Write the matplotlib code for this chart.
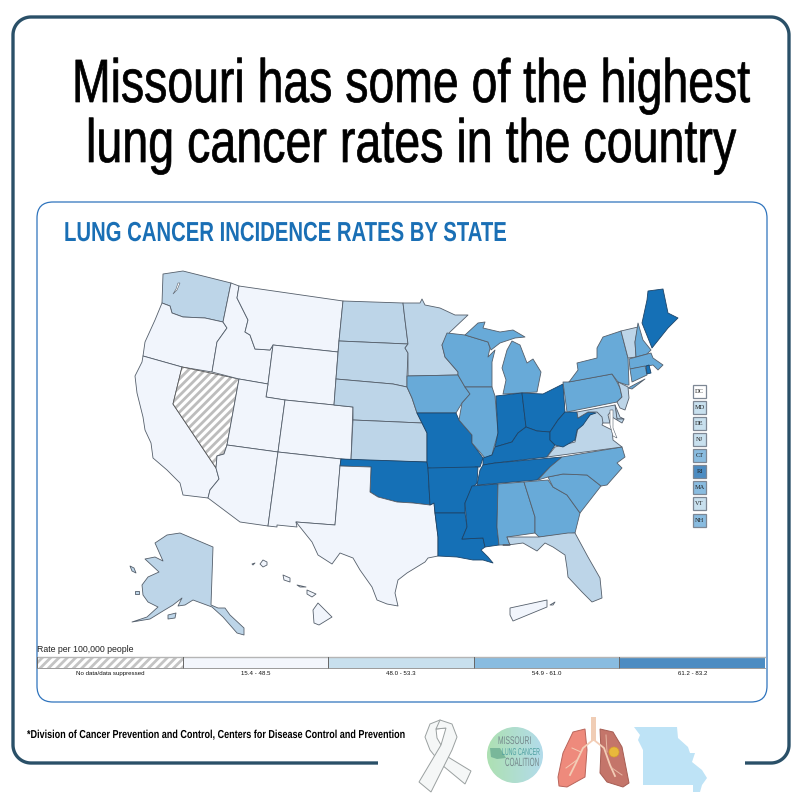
import numpy as np
import matplotlib
matplotlib.use("Agg")
import matplotlib.pyplot as plt
from matplotlib.patches import Polygon, FancyBboxPatch, Circle, Rectangle
from matplotlib.patheffects import AbstractPathEffect
from matplotlib.text import Text
from matplotlib.transforms import Affine2D, Bbox

# rate classes: 0 = no data, 1..4 = legend order
state_names = ["WA","OR","CA","NV","ID","MT","WY","UT","CO","AZ","NM","ND","SD","NE","KS","OK","TX",
               "MN","IA","MO","AR","LA","WI","IL","MS","MI","MI2","IN","OH","KY","TN","AL","GA","FL",
               "SC","NC","VA","WV","PA","NY","LI","NJ","DE","MD","VT","NH","ME","MA","CT","RI",
               "AK","AK2","AK3","AK4","HI","HI2","HI3","HI4","HI5","HI6","PR","PR2"]
rate_class = [2,1,1,0,1,1,1,1,1,1,1,2,2,2,2,4,1,
              2,3,4,4,4,3,3,4,3,3,4,4,4,4,3,3,2,
              3,3,2,4,3,3,3,2,2,2,2,3,4,3,3,4,
              2,2,2,2,1,1,1,1,1,1,1,1]

inset_codes = ["DC","MD","DE","NJ","CT","RI","MA","VT","NH"]
inset_class = [1,2,2,2,3,4,3,2,3]

legend_labels = ["No data/data suppressed","15.4 - 48.5","48.0 - 53.3","54.9 - 61.0","61.2 - 83.2"]
map_colors = {1:"#f1f5fc", 2:"#bdd5e8", 3:"#68aad8", 4:"#1570b6"}
bar_colors = {1:"#f3f6fc", 2:"#c8e0ee", 3:"#89bce0", 4:"#4c8cc2"}

# state outlines (pixels)
outlines = {
"WA":[(163,274),(183,271),(231,283),(223,322),(205,318),(183,317),(172,313),(170,306),(162,303)],
"OR":[(162,303),(170,306),(172,313),(183,317),(205,318),(223,322),(227,328),(217,342),(212,372),(182,367),(143,356),(145,342),(155,320)],
"CA":[(143,356),(182,367),(173,404),(216,468),(219,479),(210,490),(208,498),(183,495),(180,483),(167,470),(153,458),(151,443),(145,430),(143,417),(137,393),(135,376),(142,362)],
"NV":[(182,367),(239,379),(227,445),(224,454),(217,456),(216,468),(173,404)],
"ID":[(231,283),(239,286),(237,298),(248,320),(245,332),(250,335),(255,349),(270,350),(273,345),(268,384),(239,379),(212,372),(217,342),(227,328),(223,322)],
"MT":[(239,286),(343,301),(339,341),(338,352),(273,345),(270,350),(255,349),(250,335),(245,332),(248,320),(237,298)],
"WY":[(273,345),(338,352),(334,405),(285,400),(266,397),(268,384)],
"UT":[(239,379),(268,384),(266,397),(285,400),(278,452),(227,445)],
"CO":[(285,400),(334,405),(353,407),(351,460),(278,452)],
"AZ":[(227,445),(278,452),(268,526),(240,522),(208,498),(210,490),(219,479),(216,468),(217,456),(224,454)],
"NM":[(278,452),(341,459),(340,467),(335,525),(296,522),(297,527),(277,525),(277,527),(268,526)],
"ND":[(343,301),(403,303),(405,320),(408,344),(339,341)],
"SD":[(339,341),(408,344),(405,348),(408,353),(407,376),(407,387),(393,384),(336,379)],
"NE":[(336,379),(393,384),(407,387),(412,398),(417,413),(422,423),(353,420),(353,407),(334,405)],
"KS":[(353,420),(422,423),(427,433),(427,462),(351,460)],
"OK":[(341,459),(427,462),(428,468),(430,505),(413,503),(397,502),(378,497),(370,492),(371,467),(340,466)],
"TX":[(340,466),(371,467),(370,492),(378,497),(397,502),(413,503),(430,505),(434,503),(435,513),(438,537),(438,556),(428,558),(425,562),(407,573),(398,580),(395,593),(398,606),(387,604),(377,600),(372,587),(360,570),(353,558),(340,553),(332,564),(318,555),(312,542),(296,522),(335,525)],
"MN":[(403,303),(420,303),(422,299),(425,305),(440,308),(455,315),(468,315),(450,332),(442,345),(445,357),(458,372),(458,375),(408,376),(408,353),(405,348),(408,344),(405,320)],
"IA":[(407,376),(458,375),(465,387),(470,394),(462,403),(456,413),(417,413),(412,398),(407,387)],
"MO":[(417,413),(456,413),(459,420),(472,435),(472,443),(483,458),(480,467),(475,467),(474,473),(428,468),(427,462),(427,433),(422,423)],
"AR":[(428,468),(474,467),(478,467),(477,483),(472,488),(465,503),(465,513),(435,513),(434,503),(430,505)],
"LA":[(435,513),(465,513),(467,527),(462,539),(483,538),(485,547),(481,550),(488,557),(493,563),(483,560),(473,560),(457,557),(438,556),(438,537)],
"WI":[(447,333),(465,335),(488,342),(490,348),(488,357),(495,350),(492,362),(492,387),(465,387),(458,375),(458,372),(445,357),(442,345)],
"IL":[(465,387),(492,387),(495,396),(498,433),(494,447),(492,455),(485,458),(472,443),(472,435),(459,420),(462,403),(470,394)],
"MS":[(472,486),(498,484),(497,527),(499,545),(485,547),(483,538),(462,539),(467,527),(465,503)],
"MI":[(503,394),(506,380),(502,368),(507,350),(512,341),(520,345),(527,363),(533,359),(541,372),(537,392)],
"MI2":[(465,335),(478,323),(485,322),(483,328),(500,332),(513,330),(525,337),(515,338),(500,343),(491,350),(488,342)],
"IN":[(496,396),(522,393),(526,427),(518,433),(512,442),(495,447),(498,433)],
"OH":[(522,393),(543,394),(563,384),(565,412),(558,420),(550,432),(537,431),(526,427)],
"KY":[(495,447),(512,442),(518,433),(526,427),(537,431),(550,432),(550,440),(555,445),(547,457),(495,463),(483,465),(483,458),(492,455)],
"TN":[(483,465),(495,463),(562,457),(550,467),(537,480),(477,485),(480,470)],
"AL":[(498,484),(524,482),(535,517),(535,533),(507,537),(510,545),(503,545),(499,545),(497,527)],
"GA":[(524,482),(548,480),(553,487),(567,495),(580,513),(575,533),(539,537),(535,533),(535,517)],
"FL":[(507,537),(539,537),(568,533),(575,533),(588,557),(600,578),(602,598),(592,602),(582,592),(568,577),(567,568),(565,555),(553,547),(545,543),(537,551),(523,543),(508,545),(503,545),(510,545)],
"SC":[(548,477),(563,474),(587,475),(601,486),(580,513),(567,495),(553,487)],
"NC":[(538,480),(550,467),(562,457),(622,447),(625,457),(617,463),(622,468),(607,485),(601,486),(587,475),(563,474),(548,477)],
"VA":[(547,457),(555,447),(575,442),(578,428),(590,415),(596,411),(605,418),(602,425),(612,430),(613,440),(622,447)],
"WV":[(565,412),(577,412),(578,418),(588,412),(596,413),(590,415),(583,425),(577,430),(575,440),(563,447),(555,445),(550,440),(550,432),(558,420)],
"PA":[(563,382),(568,382),(612,374),(617,382),(620,388),(622,397),(617,402),(567,412)],
"NY":[(569,382),(578,370),(577,363),(597,358),(597,348),(603,337),(621,331),(628,358),(629,385),(627,385),(618,382),(612,374)],
"LI":[(628,388),(645,379),(632,389)],
"NJ":[(618,382),(628,387),(629,398),(625,410),(620,408),(617,402),(622,397),(620,388)],
"DE":[(615,405),(620,417),(624,419),(617,419)],
"MD":[(577,412),(615,405),(617,419),(624,419),(622,423),(612,417),(612,410),(608,415),(610,423),(603,423),(602,417),(597,412),(588,412),(578,418)],
"VT":[(621,331),(638,327),(635,342),(636,357),(628,358)],
"NH":[(638,323),(643,340),(651,350),(647,354),(636,357),(635,342)],
"ME":[(648,291),(663,289),(668,313),(678,318),(668,328),(652,348),(642,323),(647,300)],
"MA":[(629,359),(651,353),(653,358),(663,365),(658,370),(653,365),(630,369)],
"CT":[(630,369),(645,366),(647,375),(632,382)],
"RI":[(646,366),(649,365),(651,373),(647,374)],
"AK":[(180,533),(213,547),(211,605),(218,608),(225,608),(230,615),(244,628),(244,635),(237,633),(223,617),(212,607),(193,600),(185,605),(178,606),(182,598),(173,605),(163,611),(150,619),(132,622),(147,617),(158,607),(148,602),(143,595),(142,585),(148,577),(159,572),(145,559),(155,557),(163,561),(155,543),(167,535)],
"AK2":[(168,615),(176,613),(175,618),(168,619)],
"AK3":[(135,591),(139,591),(139,594),(135,594)],
"AK4":[(130,566),(134,568),(136,573),(132,571)],
"HI":[(318,603),(332,617),(319,625),(314,623),(313,610)],
"HI2":[(307,590),(316,594),(312,597),(307,594)],
"HI3":[(283,575),(290,578),(290,582),(284,580)],
"HI4":[(297,585),(306,587),(300,587)],
"HI5":[(263,560),(267,562),(267,565),(263,567),(260,564)],
"HI6":[(252,564),(255,563),(253,565)],
"PR":[(510,608),(547,600),(547,607),(513,621),(510,615)],
"PR2":[(550,605),(555,602),(553,605)],
}

# right hand legend boxes, top edge of each box
inset_top = [385,401,417,433,449,465,481,497,514]

base_font = "Liberation Sans"


class Squeeze(AbstractPathEffect):
    # reshapes drawn glyphs around (x0, y0), no condensed family is installed
    def __init__(self, fx, fy, x0, y0, stroke=0.0):
        super().__init__()
        self.fx, self.fy, self.x0, self.y0, self.stroke = fx, fy, x0, y0, stroke

    def draw_path(self, renderer, gc, tpath, affine, rgbFace=None):
        tr = affine + Affine2D().translate(-self.x0, -self.y0).scale(self.fx, self.fy).translate(self.x0, self.y0)
        gc0 = renderer.new_gc()
        gc0.copy_properties(gc)
        gc0.set_linewidth(self.stroke)
        renderer.draw_path(gc0, tpath, tr, rgbFace)
        gc0.restore()


class NarrowText(Text):
    # left aligned text fitted to a given width in pixels, tall stretches it upward from the baseline
    def __init__(self, x, y, s, width, tall=1.0, stroke=0.0, **kw):
        super().__init__(x, y, s, **kw)
        self.fit_width = width
        self.tall = tall
        self.stroke = stroke

    def draw(self, renderer):
        natural = Text.get_window_extent(self, renderer)
        px, py = self.get_transform().transform((self.get_position()))
        self.set_path_effects([Squeeze(self.fit_width / natural.width, self.tall, px, py, self.stroke)])
        super().draw(renderer)
        self.set_path_effects([])


plt.rcParams["hatch.linewidth"] = 2.0
fig = plt.figure(figsize=(8,8), dpi=100)
ax = fig.add_axes([0,0,1,1])
ax.set_xlim(0,800)
ax.set_ylim(800,0)
ax.axis("off")


def narrow(x, y, s, width, size, color="black", weight="normal", tall=1.0, stroke=0.0, zorder=5):
    txt = NarrowText(x, y, s, width, tall=tall, stroke=stroke, family=base_font, fontsize=size, color=color,
                     weight=weight, va="baseline", zorder=zorder)
    ax.add_artist(txt)
    txt.set_transform(ax.transData)


# outer frame, open along the bottom
frame_color = "#2a5068"
r = 18
left, right, top, bottom = 13, 789, 17, 763
t = np.linspace(0,np.pi/2,20)
xs = [378, left+r] + list(left+r-r*np.sin(t)) + list(left+r-r*np.cos(t)) + [right-r] + list(right-r+r*np.sin(t)) + list(right-r+r*np.cos(t)) + [745]
ys = [bottom, bottom] + list(bottom-r+r*np.cos(t)) + list(top+r-r*np.sin(t)) + [top] + list(top+r-r*np.cos(t)) + list(bottom-r+r*np.sin(t)) + [bottom]
ax.plot(xs, ys, color=frame_color, lw=2.4, solid_capstyle="butt")

# blue panel
ax.add_patch(FancyBboxPatch((37+16,202+16),730-32,500-32,boxstyle="round,pad=16,rounding_size=16",
                            fc="white",ec="#2f74bd",lw=0.9))

narrow(72,102,"Missouri has some of the highest",678,33,tall=44/33,stroke=0.5)
narrow(86,162,"lung cancer rates in the country",651,33,tall=44/33,stroke=0.5)
narrow(64,241,"LUNG CANCER INCIDENCE RATES BY STATE",443,19.8,color="#1a6fb5",weight="bold")
narrow(27,738,"*Division of Cancer Prevention and Control, Centers for Disease Control and Prevention",378,8.3,weight="bold")

# states
for name, cls in zip(state_names, rate_class):
    if cls == 0:
        ax.add_patch(Polygon(outlines[name],closed=True,fc="white",ec="#bdbdbd",hatch="////",lw=0))
        ax.add_patch(Polygon(outlines[name],closed=True,fc="none",ec="#555555",lw=0.6))
    else:
        edge = "#1d4468" if cls == 4 else "#555f6b"
        ax.add_patch(Polygon(outlines[name],closed=True,fc=map_colors[cls],ec=edge,lw=0.6,joinstyle="round"))

# Puget Sound and Chesapeake Bay
ax.add_patch(Polygon([(180,283),(177,290),(173,294),(176,289),(178,283)],closed=True,fc="white",ec="#555f6b",lw=0.4))
ax.add_patch(Polygon([(610,410),(613,410),(613,428),(617,438),(613,436),(610,425)],closed=True,fc="white",ec="#555f6b",lw=0.4))

# small boxes for the little states
for code, cls, y in zip(inset_codes, inset_class, inset_top):
    fc = "white" if cls == 1 else bar_colors[cls]
    ax.add_patch(Rectangle((693,y),13,13,fc=fc,ec="#7d8794",lw=0.9))
    ax.text(699.5,y+6.5,code,family="Liberation Serif",fontsize=4.6,ha="center",va="center",color="#222222")

# bottom legend
ax.text(37,649,"Rate per 100,000 people",family="Liberation Sans",fontsize=6.3,color="#222222",va="center")
bar_x = np.linspace(37,765,6)
ax.plot([37,765],[657,657],color="#b5b5b5",lw=1.0)
for i, lab in enumerate(legend_labels):
    if i == 0:
        ax.add_patch(Rectangle((bar_x[0],657),bar_x[1]-bar_x[0],11,fc="white",ec="#c4c4c4",hatch="////",lw=0))
    else:
        ax.add_patch(Rectangle((bar_x[i],657),bar_x[i+1]-bar_x[i],11,fc=bar_colors[i],ec="none"))
    ax.plot([bar_x[i],bar_x[i]],[657,668],color="#666666",lw=0.7)
    ax.text((bar_x[i]+bar_x[i+1])/2,673.5,lab,family="Liberation Sans",fontsize=4.4,ha="center",va="center",color="#111111")
ax.plot([37,765],[668,668],color="#8a8a8a",lw=0.6)

# ribbon
ribbon_back = [(440,720),(430,724),(425,737),(430,750),(442,765),(465,784),(471,771),(448,757),(437,738),(436,729),(446,728)]
ribbon_front = [(440,720),(452,724),(457,737),(452,750),(431,792),(419,782),(441,745),(446,728),(436,729)]
ax.add_patch(Polygon(ribbon_back,closed=True,fc="#f5f7f7",ec="#9aa0a0",lw=0.7))
ax.add_patch(Polygon(ribbon_front,closed=True,fc="#f5f7f7",ec="#9aa0a0",lw=0.7))

# coalition logo
grad = np.linspace(0,1,60)[None,:]
logo = ax.imshow(np.dstack([0.68+0.02*grad,0.88-0.02*grad,0.70+0.22*grad]),extent=(487,543,783,727),aspect="auto",zorder=2)
logo.set_clip_path(Circle((515,755),28,transform=ax.transData))
ax.set_xlim(0,800)
ax.set_ylim(800,0)
ax.add_patch(Polygon([(490,748),(500,748),(506,758),(497,759),(491,757)],closed=True,fc="#79b79a",ec="none",zorder=3))
narrow(498,744,"MISSOURI",33,8,color="#74868a")
narrow(502,755,"LUNG CANCER",38,7.2,color="#4f9fa0")
narrow(505,766,"COALITION",34,8.6,color="#74868a")

# lungs
ax.add_patch(Rectangle((591,717),5,24,fc="#f0cdb5",ec="none"))
ax.add_patch(Polygon([(585,729),(573,732),(563,753),(558,777),(559,786),(567,787),(585,777),(587,750)],closed=True,fc="#ee8a7c",ec="#b9655b",lw=0.7))
ax.add_patch(Polygon([(600,729),(613,732),(622,747),(629,783),(623,787),(607,782),(600,773),(601,750)],closed=True,fc="#c4756a",ec="#a65d53",lw=0.7))
ax.plot([593,583,575,570],[740,748,765,775],color="#f3cdb6",lw=1.3)
ax.plot([594,604,610,615],[740,748,765,776],color="#f3cdb6",lw=1.3)
ax.plot([581,572],[752,748],color="#f3cdb6",lw=0.7)
ax.plot([577,566],[760,768],color="#f3cdb6",lw=0.7)
ax.plot([607,606],[752,735],color="#e7b9a5",lw=0.7)
ax.plot([612,622],[768,775],color="#e7b9a5",lw=0.7)
ax.add_patch(Circle((614,752),5,fc="#e8b93c",ec="#d89f2c",lw=0.5))

# Missouri
ax.add_patch(Polygon([(634,727),(677,727),(678,738),(688,747),(690,753),(695,753),(692,762),(702,770),(707,778),(702,785),(700,792),(693,792),(693,785),(643,785),(643,750),(638,740),(640,735)],
                     closed=True,fc="#bee3f6",ec="none"))

fig.savefig("out.png",dpi=100)
